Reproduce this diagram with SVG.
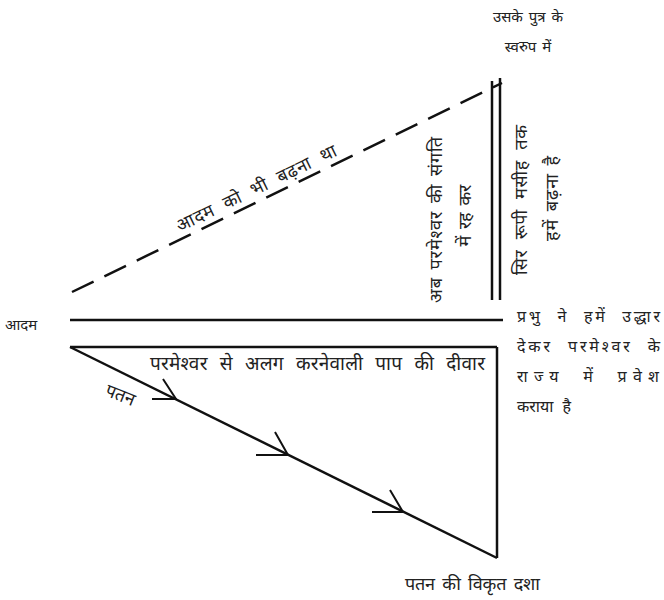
<svg xmlns="http://www.w3.org/2000/svg" width="664" height="600" viewBox="0 0 664 600">
<style>
.t{font-family:"Noto Sans","Liberation Sans",sans-serif;font-size:16px;fill:#222}
.s{font-size:15px}
.v{font-size:18px}
.ln{stroke:#111;stroke-width:2.5;fill:none}
.ar{stroke:#111;stroke-width:2;fill:none}
</style>
<rect width="664" height="600" fill="#fff"/>
<g id="connectors">
<line class="ln" x1="72" y1="292" x2="502" y2="83" stroke-dasharray="24,12"/>
<line class="ln" x1="70" y1="320" x2="503" y2="320"/>
<line class="ln" x1="70" y1="347" x2="497" y2="347"/>
<line class="ln" x1="492" y1="81" x2="492" y2="300"/>
<line class="ln" x1="500" y1="78" x2="500" y2="300"/>
<line class="ln" x1="497" y1="347" x2="497" y2="558"/>
<line class="ln" x1="70" y1="347" x2="497" y2="558"/>
<path class="ar" d="M152,399 H176 L163,379"/>
<path class="ar" d="M256,455 H288 L275,432"/>
<path class="ar" d="M372,512 H403 L390,490"/>
</g>
<g id="node-top">
<text class="t s" x="528" y="22" text-anchor="middle" word-spacing="2">उसके पुत्र के</text>
<text class="t s" x="528" y="52" text-anchor="middle" word-spacing="2">स्वरुप में</text>
</g>
<g id="node-adam">
<text class="t s" x="5" y="330">आदम</text>
</g>
<g id="node-dashed-label">
<text class="t v" x="-88" y="-7" word-spacing="6" textLength="176" lengthAdjust="spacing" transform="translate(262 200) rotate(-25.9)">आदम को भी बढ़ना था</text>
</g>
<g id="node-vertical-left">
<text class="t v" x="-83" word-spacing="2" textLength="166" lengthAdjust="spacing" transform="translate(442 220) rotate(-90)">अब परमेश्वर की संगति</text>
<text class="t v" x="-31" word-spacing="3" textLength="62" lengthAdjust="spacing" transform="translate(471 216) rotate(-90)">में रह कर</text>
</g>
<g id="node-vertical-right">
<text class="t v" x="-75" word-spacing="5" textLength="150" lengthAdjust="spacing" transform="translate(527 200) rotate(-90)">सिर रूपी मसीह तक</text>
<text class="t v" x="-42" word-spacing="2" textLength="85" lengthAdjust="spacing" transform="translate(558 199) rotate(-90)">हमें बढ़ना है</text>
</g>
<g id="node-right">
<text class="t" x="517" y="322" word-spacing="8" textLength="143" lengthAdjust="spacing">प्रभु ने हमें उद्धार</text>
<text class="t" x="517" y="352" word-spacing="8" textLength="143" lengthAdjust="spacing">देकर परमेश्वर के</text>
<text class="t" x="517" y="382" word-spacing="8" textLength="142" lengthAdjust="spacing">राज्य में प्रवेश</text>
<text class="t" x="517" y="412" word-spacing="5">कराया है</text>
</g>
<g id="node-wall">
<text class="t" x="150" y="370" style="font-size:19px" word-spacing="7" textLength="335" lengthAdjust="spacing">परमेश्वर से अलग करनेवाली पाप की दीवार</text>
</g>
<g id="node-fall">
<text class="t v" x="120" y="401" text-anchor="middle" transform="rotate(22 120 396)">पतन</text>
</g>
<g id="node-bottom">
<text class="t v" x="405" y="590" word-spacing="3" textLength="135" lengthAdjust="spacing">पतन की विकृत दशा</text>
</g>
</svg>
